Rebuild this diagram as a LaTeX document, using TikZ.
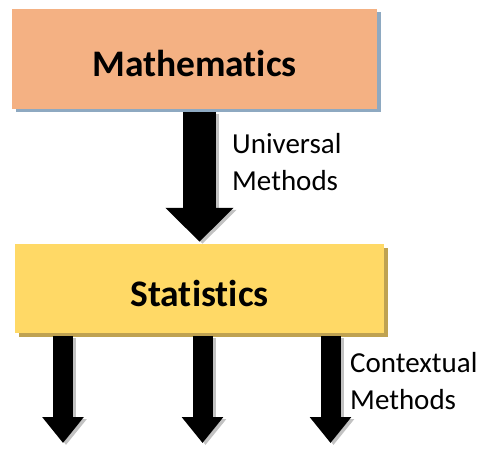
\documentclass[tikz,border=0pt]{standalone}
\usepackage{fontspec}
\setmainfont{Carlito}[Ligatures={NoCommon}]
\usetikzlibrary{arrows.meta,shadows}

\definecolor{mathfill}{HTML}{F4B183}
\definecolor{mathshade}{HTML}{8EA9C1}
\definecolor{statfill}{HTML}{FFD966}
\definecolor{statshade}{HTML}{BFA251}

\tikzset{
  box/.style={inner sep=0pt, text height=36pt, text depth=0pt,
    font=\fontsize{37.5}{42}\selectfont\bfseries},
  bigarrow/.style={line width=33pt, -{Triangle[length=34pt,width=66pt]}},
  smallarrow/.style={line width=20pt, -{Triangle[length=26pt,width=40pt]}},
  arrowshade/.style={black!40, opacity=0.6, transform canvas={xshift=3pt,yshift=-2pt}},
  methodtext/.style={anchor=west, align=left, inner sep=0pt, font=\fontsize{29}{37}\selectfont}
}

\begin{document}
\begin{tikzpicture}[x=1pt,y=-1pt]
  \useasboundingbox (0,0) rectangle (481,449);
  % the two boxes
  \node[box, fill=mathfill, minimum width=365pt, minimum height=100pt,
    drop shadow={shadow xshift=3.5pt, shadow yshift=-3.5pt, fill=mathshade, opacity=1}]
    (math) at (194.5,59) {Mathematics};
  \node[box, fill=statfill, minimum width=369pt, minimum height=89pt,
    drop shadow={shadow xshift=3.5pt, shadow yshift=-3.5pt, fill=statshade, opacity=1}]
    (stats) at (199.5,288.5) {Statistics};
  % ends of the three lower arrows
  \coordinate (out1) at (63,443);
  \coordinate (out2) at (202.5,443);
  \coordinate (out3) at (330.5,443);
  % arrow from mathematics to statistics
  \draw[bigarrow, arrowshade] ([xshift=5pt,yshift=-3pt]math.south) -- ([yshift=2pt]stats.north);
  \draw[bigarrow] ([xshift=5pt,yshift=-3pt]math.south) -- ([yshift=2pt]stats.north);
  % arrows leaving statistics
  \foreach \o in {out1,out2,out3} {
    \draw[smallarrow, arrowshade] ([yshift=-3pt]stats.south -| \o) -- (\o);
    \draw[smallarrow] ([yshift=-3pt]stats.south -| \o) -- (\o);
  }
  % labels
  \node[methodtext] (univ) at (232,162) {Universal\\Methods};
  \node[methodtext] (ctx) at (350,381) {Contextual\\Methods};
\end{tikzpicture}
\end{document}
